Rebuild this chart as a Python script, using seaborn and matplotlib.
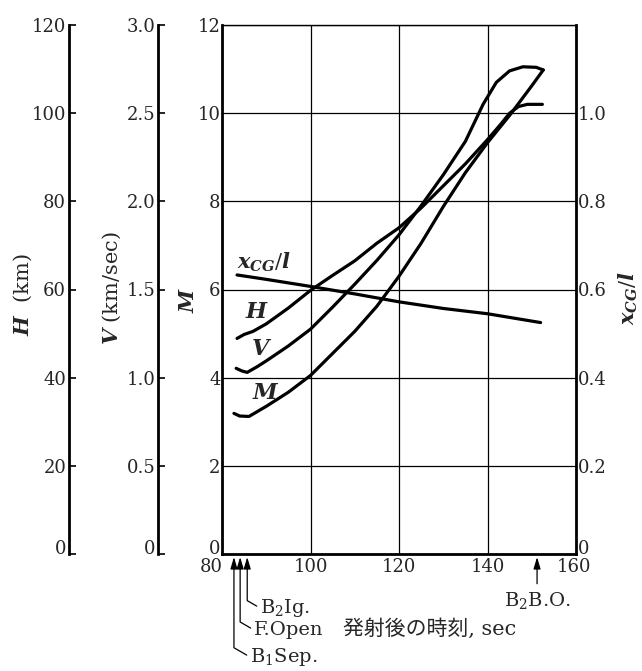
import numpy as np
import pandas as pd
import seaborn as sns
import matplotlib.pyplot as plt
from matplotlib.transforms import ScaledTranslation

# curves (time after launch, sec)
t_h = [83.4, 85.0, 87.0, 90.0, 95.0, 100.0, 105.0, 110.0, 115.0, 120.0, 125.0,
       130.0, 135.0, 140.0, 143.0, 145.0, 147.0, 149.0, 152.4]
h_km = [48.9, 49.8, 50.5, 52.2, 55.8, 59.8, 63.2, 66.5, 70.5, 74.0, 78.5,
        83.5, 88.5, 94.0, 97.5, 100.0, 101.5, 102.0, 102.0]

t_v = [83.2, 84.5, 85.7, 88.0, 90.0, 95.0, 100.0, 105.0, 110.0, 115.0, 120.0,
       125.0, 130.0, 135.0, 139.0, 142.0, 145.0, 148.0, 151.0, 152.6]
v_kms = [1.053, 1.038, 1.03, 1.063, 1.095, 1.18, 1.275, 1.40, 1.53, 1.665, 1.81,
         1.975, 2.15, 2.34, 2.55, 2.675, 2.74, 2.763, 2.76, 2.745]

t_m = [82.7, 84.0, 86.1, 90.0, 95.0, 100.0, 105.0, 110.0, 115.0, 120.0, 125.0,
       130.0, 135.0, 140.0, 145.0, 150.0, 152.6]
mach = [3.19, 3.13, 3.12, 3.35, 3.67, 4.05, 4.55, 5.05, 5.62, 6.3, 7.05,
        7.88, 8.65, 9.33, 9.95, 10.62, 10.98]

t_x = [83.4, 90.0, 100.0, 110.0, 120.0, 130.0, 140.0, 152.0]
xcg = [0.633, 0.623, 0.607, 0.59, 0.572, 0.557, 0.545, 0.525]

# events along the time axis
events = ["B$_1$Sep.", "F.Open", "B$_2$Ig."]
event_t = [82.7, 84.1, 85.7]
bo_t = 151.2

x_ticks = [80, 100, 120, 140, 160]
m_ticks = [0, 2, 4, 6, 8, 10, 12]
h_ticks = [0, 20, 40, 60, 80, 100, 120]
v_ticks = [0, 0.5, 1.0, 1.5, 2.0, 2.5, 3.0]
v_labels = ["0", "0.5", "1.0", "1.5", "2.0", "2.5", "3.0"]
r_ticks = [0, 0.2, 0.4, 0.6, 0.8, 1.0]
r_labels = ["0", "0.2", "0.4", "0.6", "0.8", "1.0"]

sns.set_theme(style="white")
plt.rcParams["font.family"] = ["DejaVu Serif", "Noto Sans CJK JP"]
plt.rcParams["mathtext.fontset"] = "custom"
plt.rcParams["mathtext.rm"] = "DejaVu Serif"
plt.rcParams["mathtext.it"] = "DejaVu Serif:italic:bold"
plt.rcParams["mathtext.bf"] = "DejaVu Serif:bold"

W, H = 642, 671
fig = plt.figure(figsize=(W / 100, H / 100), dpi=100)
TS = 13


def fx(px):
    return px / W


def fy(py):
    return 1 - py / H


ax = fig.add_axes([fx(222), fy(554), fx(576) - fx(222), fy(25) - fy(554)])
ax.set_xlim(80, 160)
ax.set_ylim(0, 12)
ax.set_xticks(x_ticks)
ax.set_xticklabels([str(v) for v in x_ticks])
ax.set_yticks(m_ticks)
ax.set_yticklabels([str(v) for v in m_ticks])
ax.grid(True, color="black", lw=0.9)
ax.tick_params(axis="y", length=0, labelsize=TS, pad=1)
ax.tick_params(axis="x", length=0, labelsize=TS, pad=3)
for s in ["left", "bottom", "right"]:
    ax.spines[s].set_linewidth(2)
    ax.spines[s].set_color("black")
ax.spines["top"].set_linewidth(1)
ax.spines["top"].set_color("black")

lw = 2.3
sns.lineplot(x=t_m, y=mach, ax=ax, color="black", lw=lw, estimator=None, sort=False)

# right axis x_CG / l
ax_r = ax.twinx()
ax_r.set_ylim(0, 1.2)
ax_r.set_yticks(r_ticks)
ax_r.set_yticklabels(r_labels)
ax_r.tick_params(length=0, labelsize=TS, pad=1)
for s in ax_r.spines.values():
    s.set_visible(False)
sns.lineplot(x=t_x, y=xcg, ax=ax_r, color="black", lw=lw, estimator=None, sort=False)


# offset left axes for H and V
def side_axis(lim, ticks, labels, pos):
    a = ax.twinx()
    a.set_ylim(*lim)
    for s in a.spines.values():
        s.set_visible(False)
    a.spines["left"].set_visible(True)
    a.spines["left"].set_position(("axes", pos))
    a.spines["left"].set_linewidth(2)
    a.spines["left"].set_color("black")
    a.yaxis.set_ticks_position("left")
    a.yaxis.set_label_position("left")
    a.set_yticks(ticks)
    a.set_yticklabels(labels)
    a.tick_params(axis="y", direction="in", length=5, width=1.2, color="black",
                  labelsize=TS, pad=2)
    return a


ax_h = side_axis((0, 120), h_ticks, [str(v) for v in h_ticks], (69 - 222) / 354)
ax_v = side_axis((0, 3.0), v_ticks, v_labels, (158 - 222) / 354)
sns.lineplot(x=t_h, y=h_km, ax=ax_h, color="black", lw=lw, estimator=None, sort=False)
sns.lineplot(x=t_v, y=v_kms, ax=ax_v, color="black", lw=lw, estimator=None, sort=False)
for a in (ax, ax_r, ax_h, ax_v):
    a.set_xlabel("")
    a.set_ylabel("")

# the zero labels sit a little above the baseline, 80 is pushed left
up = ScaledTranslation(0, 7 / 100, fig.dpi_scale_trans)
for a in (ax, ax_r, ax_h, ax_v):
    lab = a.get_yticklabels()[0]
    lab.set_transform(lab.get_transform() + up)
xl = ax.get_xticklabels()
xl[0].set_transform(xl[0].get_transform() + ScaledTranslation(-11 / 100, 0, fig.dpi_scale_trans))
xl[-1].set_transform(xl[-1].get_transform() + ScaledTranslation(-2 / 100, 0, fig.dpi_scale_trans))

# axis titles
fig.text(fx(23), fy(295), "$H$  (km)", rotation=90, ha="center", va="center", fontsize=15)
fig.text(fx(112), fy(288), "$V$ (km/sec)", rotation=90, ha="center", va="center", fontsize=15)
fig.text(fx(189), fy(300), "$M$", rotation=90, ha="center", va="center", fontsize=15)
fig.text(fx(628), fy(298), "$x_{CG}/l$", rotation=90, ha="center", va="center", fontsize=15)
fig.text(fx(343), fy(629), "発射後の時刻, sec", ha="left", va="center", fontsize=15)

# curve labels
ax.text(83.5, 6.62, "$x_{CG}/l$", fontsize=15, ha="left", va="center")
ax.text(87.9, 5.48, "$H$", fontsize=16, ha="center", va="center")
ax.text(89.0, 4.66, "$V$", fontsize=16, ha="center", va="center")
ax.text(90.0, 3.66, "$M$", fontsize=16, ha="center", va="center")

# event arrows below the time axis
text_px = [(250, 657), (254, 630), (260, 608)]
head = "-|>,head_length=0.5,head_width=0.15"
for name, t, (tx, ty) in zip(events, event_t, text_px):
    ax.annotate(name, xy=(t, -0.07), xycoords="data",
                xytext=(tx, H - ty), textcoords="figure pixels",
                fontsize=14, ha="left", va="center", annotation_clip=False,
                arrowprops=dict(arrowstyle=head, color="black", lw=0.9,
                                shrinkA=0, shrinkB=0, relpos=(0, 0.5),
                                connectionstyle="angle,angleA=150,angleB=90,rad=0"))
ax.annotate("B$_2$B.O.", xy=(bo_t, -0.07), xytext=(bo_t, -1.05),
            fontsize=14, ha="center", va="center", annotation_clip=False,
            arrowprops=dict(arrowstyle=head, color="black", lw=0.9, shrinkA=2, shrinkB=0))

fig.savefig("out.png", dpi=100)
